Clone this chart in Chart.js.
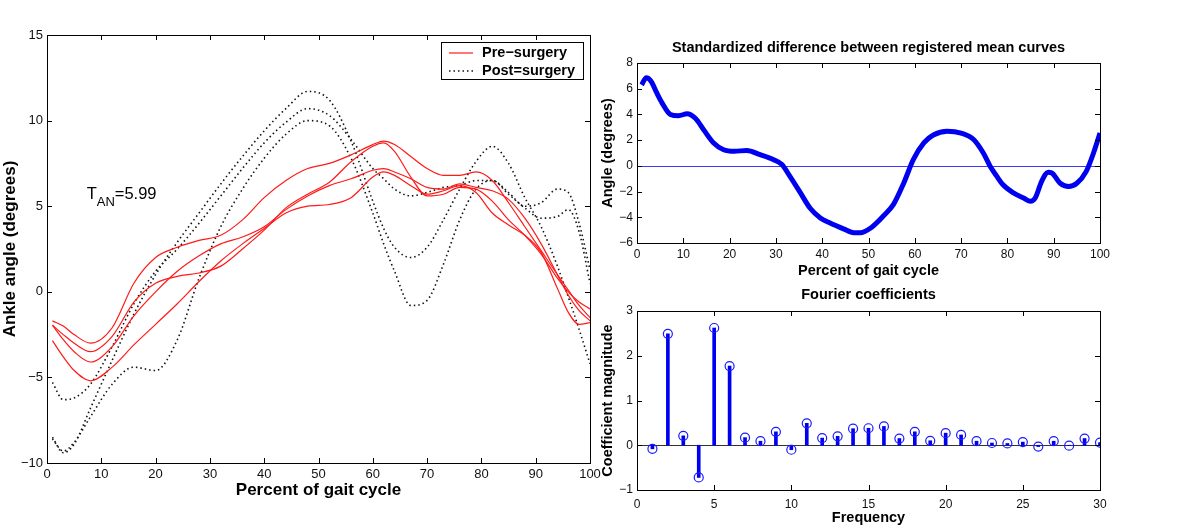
<!DOCTYPE html>
<html>
<head>
<meta charset="utf-8">
<script src="https://cdn.jsdelivr.net/npm/chart.js@4/dist/chart.umd.min.js"></script>
<style>
  body { margin: 0; background: #fff; width: 1200px; height: 529px; position: relative; overflow: hidden; }
  canvas { position: absolute; }
  #gait { left: 0; top: 0; }
  #diff { left: 590px; top: 0; }
  #fourier { left: 590px; top: 280px; }
</style>
</head>
<body>
<canvas id="gait" width="615" height="529"></canvas>
<canvas id="diff" width="610" height="280"></canvas>
<canvas id="fourier" width="610" height="249"></canvas>
<script>
// left panel: ankle angle curves, sampled at gaitX
const gaitX = [1, 3, 5, 8, 12, 16, 20, 24, 28, 32, 36, 40, 44, 48, 52, 56, 60, 62, 64, 67, 70, 73, 76, 79, 82, 85, 88, 91, 94, 96, 98, 100];
const pre1 = [-1.7, -2.0, -2.5, -3.0, -2.1, 0.5, 2.0, 2.6, 3.0, 3.3, 4.2, 5.5, 6.5, 7.2, 7.5, 8.0, 8.6, 8.8, 8.6, 7.9, 7.2, 6.8, 6.8, 7.0, 6.5, 5.2, 3.8, 2.4, 1.0, 0.1, -0.8, -1.5];
const pre2 = [-1.95, -2.5, -3.0, -3.5, -2.6, -0.6, 0.5, 0.9, 1.1, 1.5, 2.5, 3.6, 4.9, 5.7, 6.4, 7.6, 8.5, 8.7, 8.2, 6.7, 5.6, 5.7, 6.1, 6.0, 5.3, 4.2, 3.3, 2.2, 0.8, 0.0, -0.6, -1.0];
const pre3 = [-1.95, -2.8, -3.5, -4.1, -3.2, -1.4, 0.0, 1.2, 2.1, 2.8, 3.2, 3.8, 4.8, 5.6, 6.2, 6.6, 7.1, 7.2, 7.0, 6.6, 6.1, 6.0, 6.3, 6.1, 5.9, 5.4, 4.3, 2.8, 1.0, -0.2, -1.1, -1.7];
const pre4 = [-2.85, -3.8, -4.6, -5.2, -4.4, -3.1, -1.9, -0.7, 0.6, 1.8, 2.8, 3.7, 4.6, 5.0, 5.1, 5.5, 6.7, 7.0, 6.8, 6.2, 5.7, 5.9, 6.2, 5.8, 4.6, 3.9, 3.3, 2.3, 0.2, -1.2, -1.9, -1.8];
const post1 = [-8.5, -9.4, -8.9, -6.8, -4.0, -1.3, 1.0, 2.9, 4.6, 6.3, 7.9, 9.4, 10.7, 11.7, 11.2, 8.8, 5.3, 3.7, 2.6, 2.0, 2.6, 4.2, 6.0, 7.6, 8.5, 7.5, 5.5, 3.8, 1.5, -0.3, -2.2, -4.2];
const post2 = [-5.3, -6.3, -6.2, -5.4, -3.2, -0.7, 1.2, 2.5, 4.0, 5.6, 7.2, 8.7, 9.9, 10.7, 10.3, 8.9, 7.2, 6.6, 6.0, 5.6, 5.8, 6.1, 6.2, 6.5, 6.5, 5.7, 4.9, 4.3, 4.4, 4.8, 3.5, 0.5];
const post3 = [-8.6, -9.3, -8.8, -7.3, -5.4, -4.4, -4.6, -2.8, 0.8, 3.8, 6.0, 7.8, 9.2, 10.0, 9.7, 7.8, 4.6, 2.8, 1.2, -0.8, -0.5, 1.6, 4.2, 6.0, 6.5, 5.8, 5.0, 5.2, 6.0, 5.8, 4.0, 1.3];
const gaitTicksX = [0, 10, 20, 30, 40, 50, 60, 70, 80, 90, 100];
const gaitTicksY = [-10, -5, 0, 5, 10, 15];
const legendLabels = ['Pre\u2212surgery', 'Post=surgery'];

// top right: standardized difference curve
const diffX = [1, 2, 3, 4.3, 5.4, 7.2, 9, 10.8, 12.6, 14.4, 16.5, 18.7, 21, 23.7, 26.6, 29.5, 31.3, 33, 35.3, 37.4, 39.6, 41.7, 44.6, 46.8, 48.2, 50.4, 53.2, 55.4, 57.6, 59.7, 62, 64, 67, 70, 72.7, 74.8, 76.3, 77.7, 79, 81.3, 83.5, 85, 86, 87.4, 88.8, 89.6, 91.4, 93.2, 95, 97, 98.6, 100];
const diffY = [6.3, 6.85, 6.6, 5.65, 4.9, 4.0, 3.9, 4.05, 3.7, 2.8, 1.8, 1.25, 1.13, 1.2, 0.87, 0.48, 0.1, -0.8, -2.1, -3.3, -4.05, -4.45, -4.9, -5.2, -5.2, -4.85, -3.9, -3.0, -1.35, 0.5, 1.8, 2.4, 2.7, 2.55, 2.05, 1.0, -0.05, -0.8, -1.45, -2.1, -2.5, -2.75, -2.5, -1.2, -0.5, -0.55, -1.35, -1.6, -1.35, -0.45, 1.0, 2.55];
const diffTicksX = [0, 10, 20, 30, 40, 50, 60, 70, 80, 90, 100];
const diffTicksY = [-6, -4, -2, 0, 2, 4, 6, 8];

// bottom right: fourier coefficients
const freq = [1, 2, 3, 4, 5, 6, 7, 8, 9, 10, 11, 12, 13, 14, 15, 16, 17, 18, 19, 20, 21, 22, 23, 24, 25, 26, 27, 28, 29, 30];
const coef = [-0.08, 2.49, 0.21, -0.72, 2.62, 1.77, 0.17, 0.09, 0.30, -0.10, 0.49, 0.16, 0.20, 0.37, 0.38, 0.42, 0.15, 0.30, 0.10, 0.27, 0.23, 0.09, 0.05, 0.04, 0.07, -0.03, 0.09, -0.01, 0.15, 0.06];
const freqTicks = [0, 5, 10, 15, 20, 25, 30];
const coefTicks = [-1, 0, 1, 2, 3];

Chart.defaults.font.family = "'Liberation Sans', Arial, sans-serif";
Chart.defaults.color = '#000';
Chart.defaults.animation = false;
Chart.defaults.plugins.legend.display = false;
Chart.defaults.plugins.tooltip.enabled = false;

function pts(xs, ys) {
  return xs.map((x, i) => ({ x: x, y: ys[i] }));
}

function axis(o) {
  return {
    type: 'linear',
    min: o.ticks[0],
    max: o.ticks[o.ticks.length - 1],
    offset: false,
    afterBuildTicks: a => { a.ticks = o.ticks.map(v => ({ value: v })); },
    afterFit: a => {
      if (o.width) a.width = o.width;
      if (o.height) a.height = o.height;
    },
    grid: { display: false, drawTicks: false, offset: false },
    border: { display: false },
    ticks: {
      padding: o.pad,
      autoSkip: false,
      maxRotation: 0,
      color: '#111',
      font: { size: o.tickSize },
      callback: v => String(v).replace('-', '\u2212')
    },
    title: {
      display: true,
      text: o.title,
      color: '#000',
      font: { size: o.titleSize, weight: 'bold' },
      padding: o.titlePad
    }
  };
}

// matlab style box with inward ticks, plus optional zero line
const boxTicks = {
  id: 'boxTicks',
  beforeDatasetsDraw(chart, args, opts) {
    if (!opts.zero) return;
    const { ctx, chartArea: a, scales } = chart;
    const py = Math.round(scales.y.getPixelForValue(0)) + 0.5;
    ctx.save();
    ctx.strokeStyle = opts.zero;
    ctx.lineWidth = 1;
    ctx.beginPath();
    ctx.moveTo(a.left, py); ctx.lineTo(a.right, py);
    ctx.stroke();
    ctx.restore();
  },
  afterDatasetsDraw(chart) {
    const { ctx, chartArea: a, scales } = chart;
    ctx.save();
    ctx.strokeStyle = '#000';
    ctx.lineWidth = 1;
    ctx.strokeRect(Math.round(a.left) + 0.5, Math.round(a.top) + 0.5, Math.round(a.right - a.left), Math.round(a.bottom - a.top));
    ctx.beginPath();
    scales.x.ticks.forEach(t => {
      const px = Math.round(scales.x.getPixelForValue(t.value)) + 0.5;
      ctx.moveTo(px, a.bottom); ctx.lineTo(px, a.bottom - 5);
      ctx.moveTo(px, a.top); ctx.lineTo(px, a.top + 5);
    });
    scales.y.ticks.forEach(t => {
      const py = Math.round(scales.y.getPixelForValue(t.value)) + 0.5;
      ctx.moveTo(a.left, py); ctx.lineTo(a.left + 5, py);
      ctx.moveTo(a.right, py); ctx.lineTo(a.right - 5, py);
    });
    ctx.stroke();
    ctx.restore();
  }
};

const gaitExtras = {
  id: 'gaitExtras',
  afterDraw(chart) {
    const { ctx, chartArea: a, scales } = chart;
    ctx.save();
    // T_AN label
    const tx = scales.x.getPixelForValue(7.3);
    const ty = scales.y.getPixelForValue(5.4);
    ctx.fillStyle = '#000';
    ctx.textBaseline = 'alphabetic';
    ctx.font = "16.5px 'Liberation Sans', Arial, sans-serif";
    ctx.fillText('T', tx, ty);
    let w = ctx.measureText('T').width;
    ctx.font = "13px 'Liberation Sans', Arial, sans-serif";
    ctx.fillText('AN', tx + w, ty + 6.5);
    w += ctx.measureText('AN').width;
    ctx.font = "16.5px 'Liberation Sans', Arial, sans-serif";
    ctx.fillText('=5.99', tx + w, ty);

    // legend box
    const bw = 142, bh = 37;
    const bx = Math.round(a.right - 7 - bw), by = Math.round(a.top + 7);
    ctx.fillStyle = '#fff';
    ctx.fillRect(bx, by, bw, bh);
    ctx.strokeStyle = '#000';
    ctx.lineWidth = 1;
    ctx.strokeRect(bx + 0.5, by + 0.5, bw, bh);
    const styles = [chart.data.datasets[0], chart.data.datasets[4]];
    ctx.font = "bold 14.5px 'Liberation Sans', Arial, sans-serif";
    ctx.textBaseline = 'middle';
    legendLabels.forEach((lab, i) => {
      const ly = by + 11 + i * 18;
      const ds = styles[i];
      ctx.beginPath();
      ctx.strokeStyle = ds.borderColor;
      ctx.lineWidth = ds.borderWidth;
      ctx.setLineDash(ds.borderDash || []);
      ctx.moveTo(bx + 8, ly); ctx.lineTo(bx + 32, ly);
      ctx.stroke();
      ctx.setLineDash([]);
      ctx.fillStyle = '#000';
      ctx.fillText(lab, bx + 41, ly);
    });
    ctx.restore();
  }
};

function preSet(ys) {
  return { data: pts(gaitX, ys), borderColor: '#ff1a1a', borderWidth: 1.2, pointRadius: 0, fill: false, cubicInterpolationMode: 'monotone' };
}
function postSet(ys) {
  return { data: pts(gaitX, ys), borderColor: '#111', borderWidth: 1.6, borderDash: [1.5, 3], pointRadius: 0, fill: false, cubicInterpolationMode: 'monotone' };
}

new Chart(document.getElementById('gait'), {
  type: 'line',
  data: {
    datasets: [preSet(pre1), preSet(pre2), preSet(pre3), preSet(pre4), postSet(post1), postSet(post2), postSet(post3)]
  },
  options: {
    responsive: false,
    devicePixelRatio: 1,
    layout: { autoPadding: false, padding: { left: 0, top: 35, right: 25, bottom: 0 } },
    scales: {
      x: axis({ ticks: gaitTicksX, height: 66, pad: 4, tickSize: 13, title: 'Percent of gait cycle', titleSize: 17, titlePad: { top: 0, bottom: 28.8 } }),
      y: axis({ ticks: gaitTicksY, width: 47, pad: 4, tickSize: 13, title: 'Ankle angle (degrees)', titleSize: 17, titlePad: { top: 0, bottom: 0 } })
    }
  },
  plugins: [boxTicks, gaitExtras]
});

new Chart(document.getElementById('diff'), {
  type: 'line',
  data: {
    datasets: [{
      data: pts(diffX, diffY),
      borderColor: '#0000f0',
      borderWidth: 5,
      pointRadius: 0,
      fill: false,
      cubicInterpolationMode: 'monotone'
    }]
  },
  options: {
    responsive: false,
    devicePixelRatio: 1,
    layout: { autoPadding: false, padding: { left: 0, top: 0, right: 100, bottom: 0 } },
    plugins: {
      boxTicks: { zero: '#3a3aff' },
      title: {
        display: true,
        fullSize: false,
        text: 'Standardized difference between registered mean curves',
        color: '#000',
        font: { size: 14.5, weight: 'bold' },
        padding: { top: 39.3, bottom: 6.3 }
      }
    },
    scales: {
      x: axis({ ticks: diffTicksX, height: 37, pad: 4, tickSize: 12, title: 'Percent of gait cycle', titleSize: 14.5, titlePad: { top: 0, bottom: 0.6 } }),
      y: axis({ ticks: diffTicksY, width: 47, pad: 4, tickSize: 12, title: 'Angle (degrees)', titleSize: 14.5, titlePad: { top: 9, bottom: 0 } })
    }
  },
  plugins: [boxTicks]
});

new Chart(document.getElementById('fourier'), {
  type: 'bar',
  data: {
    datasets: [{
      type: 'line',
      data: pts(freq, coef),
      showLine: false,
      pointStyle: 'circle',
      pointRadius: 4.5,
      pointBorderWidth: 1.2,
      pointBorderColor: '#1a1aff',
      pointBackgroundColor: 'rgba(0,0,0,0)'
    }, {
      type: 'bar',
      data: pts(freq, coef),
      backgroundColor: '#0000f0',
      borderWidth: 0,
      barThickness: 3
    }]
  },
  options: {
    responsive: false,
    devicePixelRatio: 1,
    layout: { autoPadding: false, padding: { left: 0, top: 0, right: 100, bottom: 0 } },
    plugins: {
      boxTicks: { zero: '#333' },
      title: {
        display: true,
        fullSize: false,
        text: 'Fourier coefficients',
        color: '#000',
        font: { size: 14.5, weight: 'bold' },
        padding: { top: 6.3, bottom: 7.3 }
      }
    },
    scales: {
      x: axis({ ticks: freqTicks, height: 39, pad: 7, tickSize: 12, title: 'Frequency', titleSize: 14.5, titlePad: { top: 0, bottom: 2.3 } }),
      y: axis({ ticks: coefTicks, width: 47, pad: 4, tickSize: 12, title: 'Coefficient magnitude', titleSize: 14.5, titlePad: { top: 9, bottom: 0 } })
    }
  },
  plugins: [boxTicks]
});
</script>
</body>
</html>
